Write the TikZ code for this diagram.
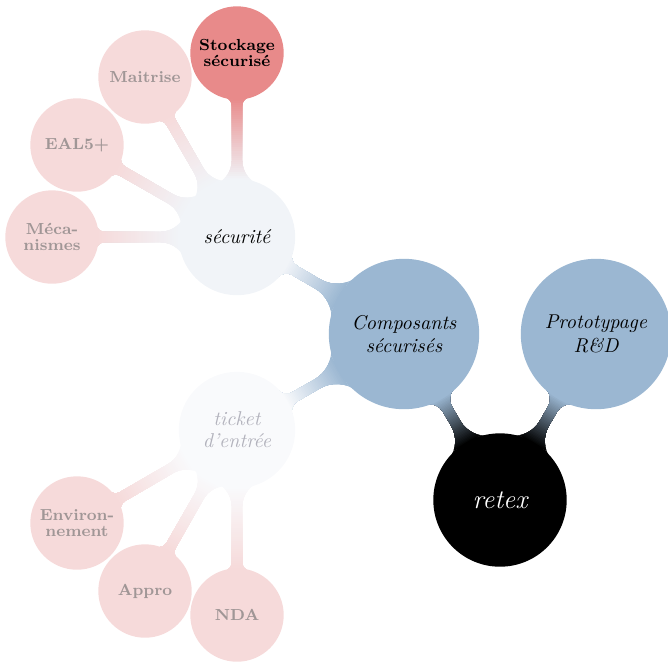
\documentclass[tikz,border=0pt]{standalone}
\usetikzlibrary{mindmap,backgrounds}

\definecolor{rootcol}{RGB}{0,0,0}
\definecolor{bluecol}{RGB}{155,183,210}
\definecolor{seccol}{RGB}{241,244,248}
\definecolor{ticketcol}{RGB}{249,250,252}
\definecolor{hotcol}{RGB}{232,138,138}
\definecolor{leafcol}{RGB}{246,218,218}
\definecolor{leaftext}{RGB}{160,150,150}
\definecolor{ghosttext}{RGB}{178,178,188}

% half width of a connection bar and size of its rounded feet
\newcommand\barhalf{2.6}
\newcommand\parentfoot{0.45}
\newcommand\childfoot{0.2}

% \conbar{parent}{child}{parent radius}{child radius}{parent colour}{child colour}
% radii in pt; draws a bar with concave feet behind the two bubbles,
% coloured from the parent colour to the child colour
\newcommand\conbar[6]{%
  \pgfpointanchor{#1}{center}\pgfgetlastxy{\cbxa}{\cbya}%
  \pgfpointanchor{#2}{center}\pgfgetlastxy{\cbxb}{\cbyb}%
  \pgfmathsetmacro\cbang{atan2(\cbyb-\cbya,\cbxb-\cbxa)}%
  \pgfmathsetmacro\cbD{veclen(\cbxb-\cbxa,\cbyb-\cbya)}%
  \pgfmathsetmacro\cbRa{#3}%
  \pgfmathsetmacro\cbRb{#4}%
  \pgfmathsetmacro\cbh{\barhalf}%
  \pgfmathsetmacro\cbfa{\parentfoot*\cbRa}%
  \pgfmathsetmacro\cbfb{\childfoot*\cbRb}%
  \pgfmathsetmacro\cbaa{sqrt((\cbRa+\cbfa)^2-(\cbh+\cbfa)^2)}%
  \pgfmathsetmacro\cbab{\cbD-sqrt((\cbRb+\cbfb)^2-(\cbh+\cbfb)^2)}%
  \pgfmathsetmacro\cbsa{atan2(-(\cbh+\cbfa),-\cbaa)}%
  \pgfmathsetmacro\cbsan{-\cbsa}%
  \pgfmathsetmacro\cbsb{atan2(-(\cbh+\cbfb),\cbD-\cbab)}%
  \pgfmathsetmacro\cbsbn{-\cbsb}%
  \pgfmathsetmacro\cbpax{\cbaa+\cbfa*cos(\cbsa)}%
  \pgfmathsetmacro\cbpay{\cbh+\cbfa+\cbfa*sin(\cbsa)}%
  \pgfmathsetmacro\cbpbx{\cbab+\cbfb*cos(\cbsb)}%
  \pgfmathsetmacro\cbpby{\cbh+\cbfb+\cbfb*sin(\cbsb)}%
  \pgfmathsetmacro\cbea{\cbRa}%
  \pgfmathsetmacro\cbeb{\cbD-\cbRb}%
  \begin{scope}[on background layer]
  \begin{scope}[shift={(\cbxa,\cbya)}, rotate=\cbang, x=1pt, y=1pt]
    \clip (0,0) -- (\cbpax,\cbpay)
      arc[start angle=\cbsa, end angle=-90, radius=\cbfa]
      -- (\cbab,\cbh)
      arc[start angle=-90, end angle=\cbsb, radius=\cbfb]
      -- (\cbD,0) -- (\cbpbx,-\cbpby)
      arc[start angle=\cbsbn, end angle=90, radius=\cbfb]
      -- (\cbaa,-\cbh)
      arc[start angle=90, end angle=\cbsan, radius=\cbfa]
      -- cycle;
    \fill[#5] (-5,-60) rectangle (\cbea,60);
    \foreach \k in {0,...,39}{%
      \pgfmathsetmacro\cbx{\cbea+(\cbeb-\cbea)*\k/40}%
      \pgfmathtruncatemacro\cbpct{100*(\k+0.5)/40}%
      \fill[#6!\cbpct!#5] (\cbx,-60) rectangle (\cbD+5,60);
    }
    \fill[#6] (\cbeb,-60) rectangle (\cbD+5,60);
  \end{scope}%
  \end{scope}%
}

\begin{document}
\begin{tikzpicture}[x=0.5pt, y=-0.5pt, mindmap,
  rootbubble/.style={concept, concept color=rootcol, text=white,
    minimum size=65.5pt, text width=60pt, inner sep=0pt,
    font=\fontsize{13.4pt}{16pt}\selectfont\itshape},
  mainbubble/.style={concept, concept color=bluecol, text=black,
    minimum size=74pt, text width=66pt, inner sep=0pt,
    font=\fontsize{10pt}{11.7pt}\selectfont\itshape},
  topicbubble/.style={concept, concept color=seccol, text=black,
    minimum size=57pt, text width=52pt, inner sep=0pt,
    font=\fontsize{10pt}{11pt}\selectfont\itshape},
  ghostbubble/.style={topicbubble, concept color=ticketcol, text=ghosttext},
  leafbubble/.style={concept, concept color=leafcol, text=leaftext,
    minimum size=45.5pt, text width=42pt, inner sep=0pt,
    font=\fontsize{8pt}{7.9pt}\selectfont\bfseries},
  hotbubble/.style={leafbubble, concept color=hotcol, text=black}
]
\useasboundingbox (0,0) rectangle (668,661);

% bubbles
\node[rootbubble]  (retex) at (500,500) {retex};
\node[mainbubble]  (comp)  at (404,334) {Composants sécurisés};
\node[mainbubble]  (proto) at (596,334) {Prototypage R\&D};
\node[topicbubble] (secu)  at (237,237) {sécurité};
\node[ghostbubble] (ticket) at (237,430) {ticket d'entrée};
\node[hotbubble]   (stock) at (237,53)  {Stockage sécurisé};
\node[leafbubble]  (maitr) at (145,77)  {Maitrise};
\node[leafbubble]  (eal)   at (77,145)  {EAL5+};
\node[leafbubble]  (meca)  at (52,237)  {Méca-\\nismes};
\node[leafbubble]  (envi)  at (77,523)  {Environ-\\nement};
\node[leafbubble]  (appro) at (145,591) {Appro};
\node[leafbubble]  (nda)   at (237,615) {NDA};

% connection bars
\conbar{retex}{comp}{32.75}{37}{rootcol}{bluecol}
\conbar{retex}{proto}{32.75}{37}{rootcol}{bluecol}
\conbar{comp}{secu}{37}{28.5}{bluecol}{seccol}
\conbar{comp}{ticket}{37}{28.5}{bluecol}{ticketcol}
\conbar{secu}{stock}{28.5}{22.75}{seccol}{hotcol}
\conbar{secu}{maitr}{28.5}{22.75}{seccol}{leafcol}
\conbar{secu}{eal}{28.5}{22.75}{seccol}{leafcol}
\conbar{secu}{meca}{28.5}{22.75}{seccol}{leafcol}
\conbar{ticket}{envi}{28.5}{22.75}{ticketcol}{leafcol}
\conbar{ticket}{appro}{28.5}{22.75}{ticketcol}{leafcol}
\conbar{ticket}{nda}{28.5}{22.75}{ticketcol}{leafcol}
\end{tikzpicture}
\end{document}
